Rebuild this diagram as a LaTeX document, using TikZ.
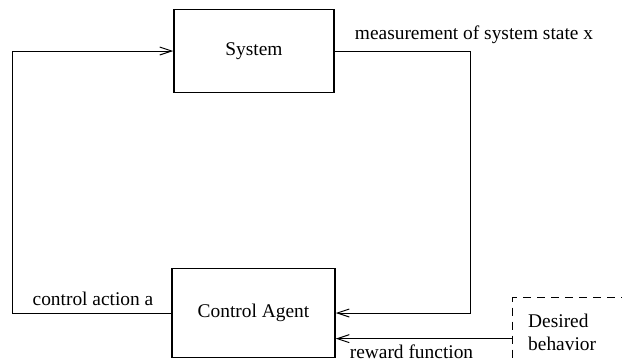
\documentclass[tikz,border=0pt]{standalone}
\usepackage{fontspec}
\setmainfont{Liberation Serif}
\usetikzlibrary{arrows.meta}
\tikzset{
  box/.style={draw, line width=1.5pt, inner sep=0pt},
  conn/.style={line width=1pt, -{Straight Barb[length=12pt, width=8pt, line width=1pt]}},
  plain/.style={line width=1pt},
  goalbox/.style={draw, line width=1.3pt, dash pattern=on 8pt off 6pt, inner sep=0pt},
  lbl/.style={inner sep=0pt, font=\fontsize{19.4}{22.5}\selectfont}
}
\begin{document}
\begin{tikzpicture}[x=1pt, y=-1pt, font=\fontsize{19.4}{22.5}\selectfont]
  \useasboundingbox (0,0) rectangle (622,362);
  \clip (0,0) rectangle (622,362);

  % plant and controller
  \node[box, minimum width=160pt, minimum height=83pt] (sys) at (254,51) {System};
  \node[box, minimum width=163pt, minimum height=89pt] (agent) at (253.5,313) {Control Agent};

  % goal specification (runs past the page edge)
  \node[goalbox, minimum width=150pt, minimum height=82pt, anchor=north west] (goal) at (512,297) {};
  \node[lbl, align=left, anchor=north west] (goaltxt) at (528,314) {Desired\\behavior};

  % feedback loop
  \coordinate (lcorner) at (12,313);
  \coordinate (rcorner) at (470,51);
  \draw[conn] (agent.west) -- (lcorner) |- (sys.west);
  \draw[conn] (sys.east) -- (rcorner) |- (agent.east);
  \draw[conn] (goal.west) -- (agent.east |- goal.west);

  % signal labels
  \node[lbl, anchor=base] (lblx) at (474,39) {measurement of system state x};
  \node[lbl, anchor=base] (lbla) at (93,305) {control action a};
  \node[lbl, anchor=base] (lblr) at (411.5,358) {reward function};
\end{tikzpicture}
\end{document}
